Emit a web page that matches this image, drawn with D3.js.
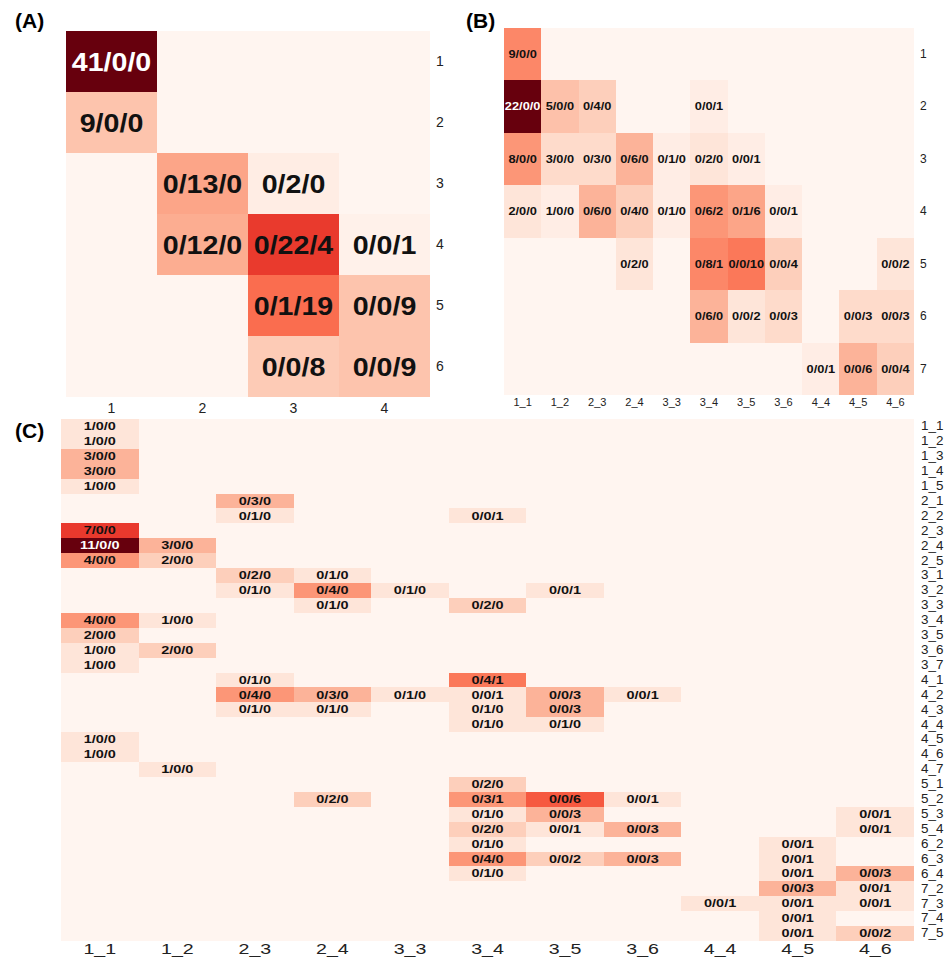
<!DOCTYPE html>
<html>
<head>
<meta charset="utf-8">
<script src="https://cdn.jsdelivr.net/npm/d3@7"></script>
<style>
  body { margin: 0; background: #fff; }
  svg { display: block; }
  text { font-family: "Liberation Sans", Arial, Helvetica, sans-serif; }
</style>
</head>
<body>
<svg id="chart" width="947" height="959"></svg>
<script>
// ---- Panel A: coarse groups ----
const colsA = ["1", "2", "3", "4"];
const rowsA = ["1", "2", "3", "4", "5", "6"];
const cellsA = [
  ["1", "1", "41/0/0"],
  ["2", "1", "9/0/0"],
  ["3", "2", "0/13/0"], ["3", "3", "0/2/0"],
  ["4", "2", "0/12/0"], ["4", "3", "0/22/4"], ["4", "4", "0/0/1"],
  ["5", "3", "0/1/19"], ["5", "4", "0/0/9"],
  ["6", "3", "0/0/8"], ["6", "4", "0/0/9"]
];

// ---- Panel B: column subgroups vs row groups ----
const colsB = ["1_1", "1_2", "2_3", "2_4", "3_3", "3_4", "3_5", "3_6", "4_4", "4_5", "4_6"];
const rowsB = ["1", "2", "3", "4", "5", "6", "7"];
const cellsB = [
  ["1", "1_1", "9/0/0"],
  ["2", "1_1", "22/0/0"], ["2", "1_2", "5/0/0"], ["2", "2_3", "0/4/0"], ["2", "3_4", "0/0/1"],
  ["3", "1_1", "8/0/0"], ["3", "1_2", "3/0/0"], ["3", "2_3", "0/3/0"], ["3", "2_4", "0/6/0"],
  ["3", "3_3", "0/1/0"], ["3", "3_4", "0/2/0"], ["3", "3_5", "0/0/1"],
  ["4", "1_1", "2/0/0"], ["4", "1_2", "1/0/0"], ["4", "2_3", "0/6/0"], ["4", "2_4", "0/4/0"],
  ["4", "3_3", "0/1/0"], ["4", "3_4", "0/6/2"], ["4", "3_5", "0/1/6"], ["4", "3_6", "0/0/1"],
  ["5", "2_4", "0/2/0"], ["5", "3_4", "0/8/1"], ["5", "3_5", "0/0/10"], ["5", "3_6", "0/0/4"], ["5", "4_6", "0/0/2"],
  ["6", "3_4", "0/6/0"], ["6", "3_5", "0/0/2"], ["6", "3_6", "0/0/3"], ["6", "4_5", "0/0/3"], ["6", "4_6", "0/0/3"],
  ["7", "4_4", "0/0/1"], ["7", "4_5", "0/0/6"], ["7", "4_6", "0/0/4"]
];

// ---- Panel C: column subgroups vs row subgroups ----
const colsC = colsB.slice();
const rowsC = ["1_1", "1_2", "1_3", "1_4", "1_5", "2_1", "2_2", "2_3", "2_4", "2_5",
  "3_1", "3_2", "3_3", "3_4", "3_5", "3_6", "3_7", "4_1", "4_2", "4_3", "4_4", "4_5",
  "4_6", "4_7", "5_1", "5_2", "5_3", "5_4", "6_2", "6_3", "6_4", "7_2", "7_3", "7_4", "7_5"];
const cellsC = [
  ["1_1", "1_1", "1/0/0"],
  ["1_2", "1_1", "1/0/0"],
  ["1_3", "1_1", "3/0/0"],
  ["1_4", "1_1", "3/0/0"],
  ["1_5", "1_1", "1/0/0"],
  ["2_1", "2_3", "0/3/0"],
  ["2_2", "2_3", "0/1/0"], ["2_2", "3_4", "0/0/1"],
  ["2_3", "1_1", "7/0/0"],
  ["2_4", "1_1", "11/0/0"], ["2_4", "1_2", "3/0/0"],
  ["2_5", "1_1", "4/0/0"], ["2_5", "1_2", "2/0/0"],
  ["3_1", "2_3", "0/2/0"], ["3_1", "2_4", "0/1/0"],
  ["3_2", "2_3", "0/1/0"], ["3_2", "2_4", "0/4/0"], ["3_2", "3_3", "0/1/0"], ["3_2", "3_5", "0/0/1"],
  ["3_3", "2_4", "0/1/0"], ["3_3", "3_4", "0/2/0"],
  ["3_4", "1_1", "4/0/0"], ["3_4", "1_2", "1/0/0"],
  ["3_5", "1_1", "2/0/0"],
  ["3_6", "1_1", "1/0/0"], ["3_6", "1_2", "2/0/0"],
  ["3_7", "1_1", "1/0/0"],
  ["4_1", "2_3", "0/1/0"], ["4_1", "3_4", "0/4/1"],
  ["4_2", "2_3", "0/4/0"], ["4_2", "2_4", "0/3/0"], ["4_2", "3_3", "0/1/0"], ["4_2", "3_4", "0/0/1"],
  ["4_2", "3_5", "0/0/3"], ["4_2", "3_6", "0/0/1"],
  ["4_3", "2_3", "0/1/0"], ["4_3", "2_4", "0/1/0"], ["4_3", "3_4", "0/1/0"], ["4_3", "3_5", "0/0/3"],
  ["4_4", "3_4", "0/1/0"], ["4_4", "3_5", "0/1/0"],
  ["4_5", "1_1", "1/0/0"],
  ["4_6", "1_1", "1/0/0"],
  ["4_7", "1_2", "1/0/0"],
  ["5_1", "3_4", "0/2/0"],
  ["5_2", "2_4", "0/2/0"], ["5_2", "3_4", "0/3/1"], ["5_2", "3_5", "0/0/6"], ["5_2", "3_6", "0/0/1"],
  ["5_3", "3_4", "0/1/0"], ["5_3", "3_5", "0/0/3"], ["5_3", "4_6", "0/0/1"],
  ["5_4", "3_4", "0/2/0"], ["5_4", "3_5", "0/0/1"], ["5_4", "3_6", "0/0/3"], ["5_4", "4_6", "0/0/1"],
  ["6_2", "3_4", "0/1/0"], ["6_2", "4_5", "0/0/1"],
  ["6_3", "3_4", "0/4/0"], ["6_3", "3_5", "0/0/2"], ["6_3", "3_6", "0/0/3"], ["6_3", "4_5", "0/0/1"],
  ["6_4", "3_4", "0/1/0"], ["6_4", "4_5", "0/0/1"], ["6_4", "4_6", "0/0/3"],
  ["7_2", "4_5", "0/0/3"], ["7_2", "4_6", "0/0/1"],
  ["7_3", "4_4", "0/0/1"], ["7_3", "4_5", "0/0/1"], ["7_3", "4_6", "0/0/1"],
  ["7_4", "4_5", "0/0/1"],
  ["7_5", "4_5", "0/0/1"], ["7_5", "4_6", "0/0/2"]
];

const svg = d3.select("#chart");

// Draws one count heatmap: cells coloured by the sum of the "a/b/c" triple.
function drawPanel(spec) {
  const g = svg.append("g");
  const x = d3.scaleBand().domain(spec.cols).range([spec.x0, spec.x1]);
  const y = d3.scaleBand().domain(spec.rows).range([spec.y0, spec.y1]);
  const lookup = new Map(spec.cells.map(([r, c, l]) => [r + "|" + c, l]));

  const grid = [];
  spec.rows.forEach(r => spec.cols.forEach(c => {
    const l = lookup.get(r + "|" + c) || null;
    const total = l ? d3.sum(l.split("/"), Number) : 0;
    grid.push({ r, c, l, total });
  }));
  const max = d3.max(grid, d => d.total);
  const color = d3.scaleSequential(d3.interpolateReds).domain([0, max]);

  g.selectAll("rect.cell").data(grid).join("rect")
    .attr("class", "cell")
    .attr("x", d => x(d.c))
    .attr("y", d => y(d.r))
    .attr("width", x.bandwidth() + 0.4)
    .attr("height", y.bandwidth() + 0.4)
    .attr("shape-rendering", "crispEdges")
    .attr("fill", d => color(d.total));

  g.selectAll("text.val").data(grid.filter(d => d.l)).join("text")
    .attr("class", "val")
    .attr("transform", d => `translate(${x(d.c) + x.bandwidth() / 2},${y(d.r) + y.bandwidth() / 2 + spec.valSize * 0.36}) scale(${spec.valStretch},1)`)
    .attr("text-anchor", "middle")
    .attr("font-size", spec.valSize)
    .attr("font-weight", "bold")
    .attr("fill", d => d.total / max > 0.75 ? "#ffffff" : "#111111")
    .text(d => d.l);

  const bottom = g.append("g")
    .attr("transform", `translate(0,${spec.y1})`)
    .call(d3.axisBottom(x).tickSize(0).tickPadding(spec.xPad));
  bottom.select(".domain").remove();
  bottom.selectAll("text")
    .attr("font-size", spec.xSize)
    .attr("fill", "#222")
    .attr("transform", `scale(${spec.xStretch},1)`);

  const right = g.append("g")
    .attr("transform", `translate(${spec.x1},0)`)
    .call(d3.axisRight(y).tickSize(0).tickPadding(spec.yPad / spec.yStretch));
  right.select(".domain").remove();
  right.selectAll("text")
    .attr("font-size", spec.ySize)
    .attr("fill", "#222")
    .attr("transform", `scale(${spec.yStretch},1)`);

  svg.append("text")
    .attr("x", spec.tx).attr("y", spec.ty)
    .attr("font-size", 21).attr("font-weight", "bold")
    .attr("fill", "#000")
    .text(spec.title);
}

drawPanel({
  title: "(A)", tx: 15, ty: 28,
  cols: colsA, rows: rowsA, cells: cellsA,
  x0: 66, x1: 430, y0: 31, y1: 397,
  valSize: 26, valStretch: 1.1,
  xSize: 14, xStretch: 1, xPad: 6,
  ySize: 14, yStretch: 1, yPad: 6
});

drawPanel({
  title: "(B)", tx: 466, ty: 28,
  cols: colsB, rows: rowsB, cells: cellsB,
  x0: 504, x1: 914, y0: 28, y1: 395,
  valSize: 10.5, valStretch: 1.22,
  xSize: 11, xStretch: 1, xPad: 3,
  ySize: 12, yStretch: 1, yPad: 6
});

drawPanel({
  title: "(C)", tx: 15, ty: 438,
  cols: colsC, rows: rowsC, cells: cellsC,
  x0: 61, x1: 914, y0: 419, y1: 941,
  valSize: 10, valStretch: 1.45,
  xSize: 14, xStretch: 1.4, xPad: 3,
  ySize: 12, yStretch: 1.12, yPad: 7
});
</script>
</body>
</html>
